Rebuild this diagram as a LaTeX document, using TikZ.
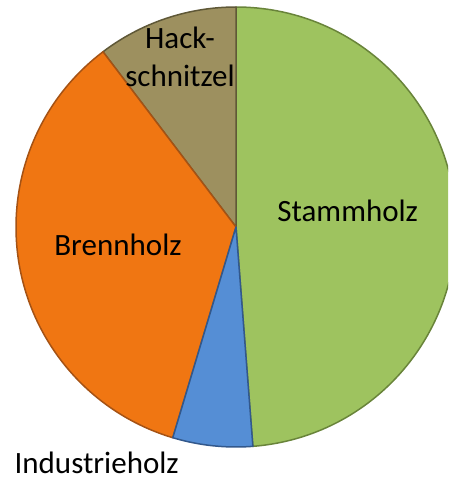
\documentclass[tikz,border=0pt]{standalone}
\usepackage{fontspec}
\setmainfont{Carlito}
\definecolor{stammC}{RGB}{158,195,95}
\definecolor{stammD}{RGB}{105,132,58}
\definecolor{hackC}{RGB}{157,144,95}
\definecolor{hackD}{RGB}{95,88,55}
\definecolor{brennC}{RGB}{240,118,18}
\definecolor{brennD}{RGB}{165,82,20}
\definecolor{indC}{RGB}{85,142,213}
\definecolor{indD}{RGB}{50,88,140}
\begin{document}
\begin{tikzpicture}[x=1pt,y=1pt,
  slice/.style={line width=1.5pt, line join=round},
  lbl/.style={font=\fontsize{31}{38}\selectfont, inner sep=0pt, anchor=base, text=black}]
\useasboundingbox (0,0) rectangle (448,-480);
\clip (0,0) rectangle (448,-480);
\coordinate (C) at (236,-227);
\def\R{220}
\filldraw[slice, fill=stammC, draw=stammD] (C) -- ++(-85.6:\R) arc[start angle=-85.6, end angle=90, radius=\R] -- cycle;
\filldraw[slice, fill=hackC, draw=hackD] (C) -- ++(90:\R) arc[start angle=90, end angle=127.2, radius=\R] -- cycle;
\filldraw[slice, fill=brennC, draw=brennD] (C) -- ++(127.2:\R) arc[start angle=127.2, end angle=253.3, radius=\R] -- cycle;
\filldraw[slice, fill=indC, draw=indD] (C) -- ++(253.3:\R) arc[start angle=253.3, end angle=274.4, radius=\R] -- cycle;
\node[lbl] (stamm) at (347.7,-221) {Stammholz};
\node[lbl] (brenn) at (118,-255) {Brennholz};
\node[lbl] (ind) at (96.7,-473) {Industrieholz};
\node[lbl, align=center] (hack) at (180,-86) {Hack-\\schnitzel};
\end{tikzpicture}
\end{document}
